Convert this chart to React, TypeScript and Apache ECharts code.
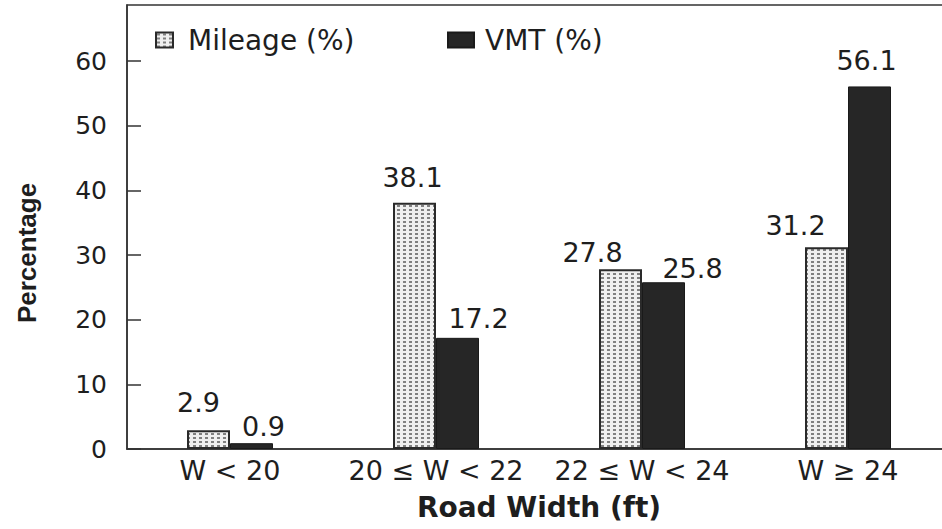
import React, { useEffect, useRef } from "react";
import * as echarts from "echarts";

const categories = ["W < 20", "20 ≤ W < 22", "22 ≤ W < 24", "W ≥ 24"];
const mileage = [2.9, 38.1, 27.8, 31.2];
const vmt = [0.9, 17.2, 25.8, 56.1];
const yTicks = [0, 10, 20, 30, 40, 50, 60];

// label nudges, [dx, dy] per bar
const mileageShift = [[-10, -9], [-2, -7], [-28, 2], [-31, -3]];
const vmtShift = [[12, 2], [21, -1], [29, 5], [-3, -7]];

const FONT = '"DejaVu Sans", sans-serif';
const INK = "#1e1e1e";

function dotTile() {
  const c = document.createElement("canvas");
  c.width = 6;
  c.height = 4;
  const ctx = c.getContext("2d")!;
  ctx.fillStyle = "#efefef";
  ctx.fillRect(0, 0, 6, 4);
  ctx.fillStyle = "#808080";
  ctx.fillRect(1, 1, 3, 2);
  return c;
}

export default function App() {
  const chartRef = useRef<HTMLDivElement>(null);

  useEffect(() => {
    // the plot runs past the right edge of the page, as in the original figure
    document.body.style.margin = "0";
    document.body.style.overflow = "hidden";
    document.documentElement.style.overflow = "hidden";
    if (!chartRef.current) return;
    const chart = echarts.init(chartRef.current, null, { renderer: "svg" });

    const dots = { image: dotTile(), repeat: "repeat", imageWidth: 6, imageHeight: 4 };

    chart.setOption({
      animation: false,
      grid: {
        left: 127,
        right: 9,
        top: 5,
        bottom: 80,
        show: true,
        borderColor: "#333",
        borderWidth: 1.5,
      },
      legend: [
        {
          data: ["Mileage (%)"],
          left: 150,
          top: 21,
          icon: "rect",
          itemWidth: 17,
          itemHeight: 15,
          textStyle: { fontSize: 28, fontFamily: FONT, color: INK, padding: [0, 0, 0, 10] },
        },
        {
          data: ["VMT (%)"],
          left: 442,
          top: 21,
          icon: "rect",
          itemWidth: 26,
          itemHeight: 15,
          textStyle: { fontSize: 28, fontFamily: FONT, color: INK, padding: [0, 0, 0, 6] },
        },
      ],
      xAxis: {
        type: "category",
        data: categories,
        axisLine: { lineStyle: { color: "#333", width: 1.5 } },
        axisTick: { inside: true, length: 9, lineStyle: { color: "#333", width: 1.5 } },
        axisLabel: { interval: 0, fontSize: 27, fontFamily: FONT, color: INK, margin: 8 },
        name: "Road Width (ft)",
        nameLocation: "middle",
        nameGap: 44,
        nameTextStyle: { fontSize: 28, fontWeight: "bold", fontFamily: FONT, color: INK },
      },
      yAxis: {
        type: "value",
        min: 0,
        max: 68.7,
        splitLine: { show: false },
        axisLine: { show: true, lineStyle: { color: "#333", width: 1.5 } },
        axisTick: {
          show: true,
          inside: true,
          length: 14,
          customValues: yTicks,
          lineStyle: { color: "#333", width: 1.5 },
        },
        axisLabel: { customValues: yTicks, fontSize: 25, fontFamily: FONT, color: INK, margin: 20 },
      },
      graphic: [
        {
          type: "text",
          x: 27,
          y: 253,
          rotation: Math.PI / 2,
          style: {
            text: "Percentage",
            font: 'bold 26px "Liberation Sans", Arial, sans-serif',
            fill: INK,
            align: "center",
            verticalAlign: "middle",
          },
        },
      ],
      series: [
        {
          name: "Mileage (%)",
          type: "bar",
          barWidth: 43,
          barGap: "0%",
          itemStyle: { color: dots, borderColor: "#2a2a2a", borderWidth: 2 },
          label: { show: true, position: "top", fontSize: 27, fontFamily: FONT, color: INK },
          data: mileage.map((v, i) => ({ value: v, label: { offset: mileageShift[i] } })),
        },
        {
          name: "VMT (%)",
          type: "bar",
          barWidth: 43,
          barGap: "0%",
          itemStyle: { color: "#262626", borderColor: "#1a1a1a", borderWidth: 1 },
          label: { show: true, position: "top", fontSize: 27, fontFamily: FONT, color: INK },
          data: vmt.map((v, i) => ({ value: v, label: { offset: vmtShift[i] } })),
        },
      ],
    });

    const handleResize = () => chart.resize();
    window.addEventListener("resize", handleResize);
    return () => {
      window.removeEventListener("resize", handleResize);
      chart.dispose();
    };
  }, []);

  return <div ref={chartRef} style={{ width: 960, height: 529 }} />;
}
